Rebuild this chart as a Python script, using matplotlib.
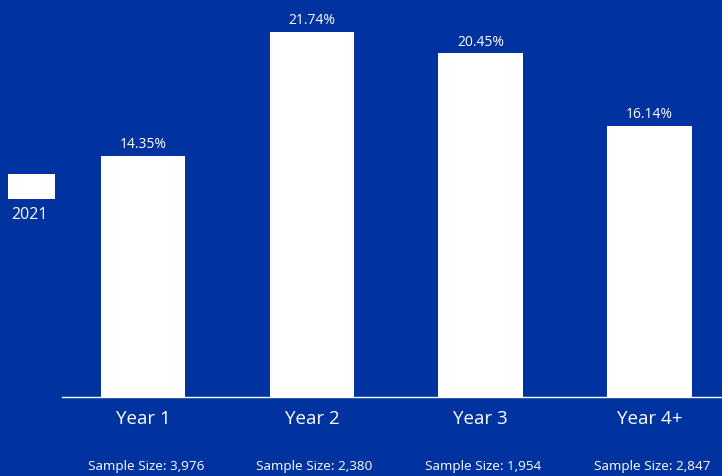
import matplotlib.pyplot as plt
from matplotlib.patches import Rectangle

plt.rcParams["font.family"] = ["Open Sans", "DejaVu Sans"]

categories = ["Year 1", "Year 2", "Year 3", "Year 4+"]
rates_2021 = [14.35, 21.74, 20.45, 16.14]
sample_sizes = ["3,976", "2,380", "1,954", "2,847"]
series_name = "2021"

BG = "#0033a0"
FG = "white"

fig = plt.figure(figsize=(7.22, 4.76), dpi=100, facecolor=BG)
ax = fig.add_axes([62 / 722, 79 / 476, 660 / 722, 397 / 476])
ax.set_facecolor(BG)

x = list(range(len(categories)))
bars = ax.bar(x, rates_2021, width=0.5, color=FG, zorder=2)
ax.bar_label(bars, labels=[f"{v:.2f}%" for v in rates_2021], padding=2.5,
             color=FG, fontsize=10)

ax.set_xlim(-0.48, 3.43)
ax.set_ylim(0, 23.63)
ax.set_yticks([])
ax.set_xticks(x)
ax.set_xticklabels(categories, fontsize=13.5, color=FG)
ax.tick_params(axis="x", length=0, pad=9.5)
for side in ["top", "right", "left"]:
    ax.spines[side].set_visible(False)
ax.spines["bottom"].set_color(FG)
ax.spines["bottom"].set_linewidth(1)

# sample sizes under each category
for xi, n in zip(x, sample_sizes):
    ax.annotate(f"Sample Size: {n}", xy=(xi, 0), xycoords=("data", "axes fraction"),
                xytext=(2, -50), textcoords="offset points", ha="center", va="center",
                color=FG, fontsize=9.7, annotation_clip=False)

# legend swatch on the left
fig.patches.append(Rectangle((8 / 722, 1 - 199 / 476), 47 / 722, 25 / 476,
                             transform=fig.transFigure, facecolor=FG, edgecolor="none"))
fig.text(30 / 722, 1 - 215 / 476, series_name, ha="center", va="center",
         color=FG, fontsize=11.5)

fig.savefig("out.png", dpi=100, facecolor=BG)
